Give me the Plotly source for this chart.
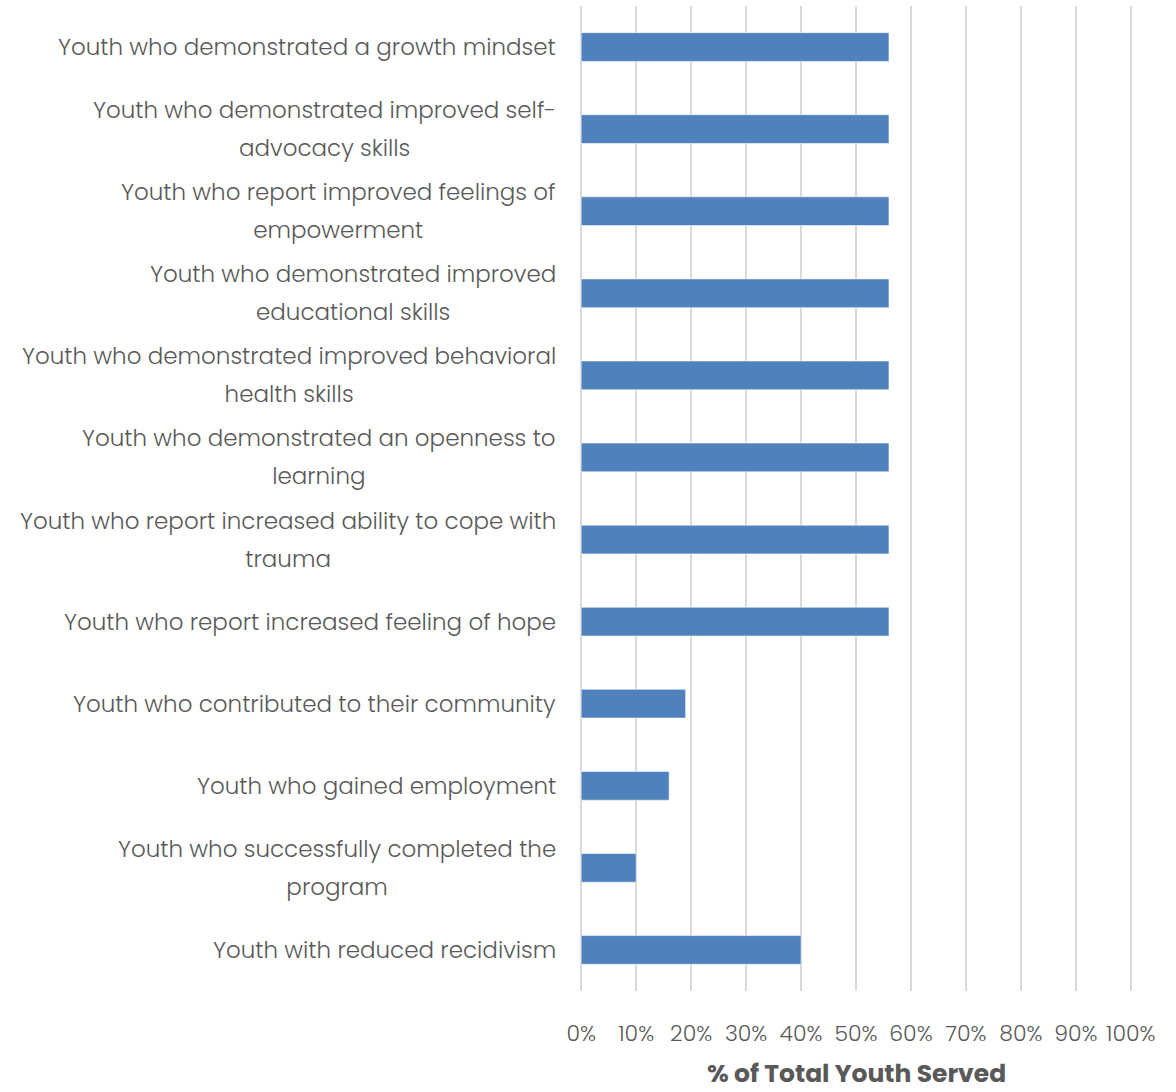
import plotly.graph_objects as go

# Outcome categories, listed top to bottom (wrapped lines separated by "\n")
categories = [
    "Youth who demonstrated a growth mindset",
    "Youth who demonstrated improved self-\nadvocacy skills",
    "Youth who report improved feelings of\nempowerment",
    "Youth who demonstrated improved\neducational skills",
    "Youth who demonstrated improved behavioral\nhealth skills",
    "Youth who demonstrated an openness to\nlearning",
    "Youth who report increased ability to cope with\ntrauma",
    "Youth who report increased feeling of hope",
    "Youth who contributed to their community",
    "Youth who gained employment",
    "Youth who successfully completed the\nprogram",
    "Youth with reduced recidivism",
]
# Percent of total youth served
values = [56, 56, 56, 56, 56, 56, 56, 56, 19, 16, 10, 40]

x_ticks = list(range(0, 101, 10))
x_tick_labels = [f"{t}%" for t in x_ticks]
x_title = "% of Total Youth Served"

FONT = "Poppins, 'Open Sans', sans-serif"
TEXT = "#595959"
LABEL_SIZE = 23          # glyph size of category labels
LINE_PITCH = 38          # px between wrapped label lines
BASE_SIZE = LINE_PITCH / 1.3  # plotly spaces lines at 1.3em of the base font

fig = go.Figure(
    go.Bar(
        x=values,
        y=categories,
        orientation="h",
        marker=dict(color="#4F81BD", line=dict(color="rgba(255,255,255,0.55)", width=1)),
        hoverinfo="x",
    )
)

# Category labels: centered multi-line blocks right-aligned to the plot edge
annotations = []
for cat in categories:
    lines = cat.split("\n")
    text = "<br>".join(
        f'<span style="font-size:{LABEL_SIZE}px">{ln}</span>' for ln in lines
    )
    annotations.append(
        dict(
            x=0, xref="paper", y=cat, yref="y",
            text=text, showarrow=False,
            xanchor="right", yanchor="middle", align="center",
            xshift=-21,
            font=dict(family=FONT, size=BASE_SIZE, color=TEXT, weight=300),
        )
    )

# x-axis title, centered under the plot area
annotations.append(
    dict(
        x=0.5, xref="paper", y=0, yref="paper",
        text=f"<b>{x_title}</b>", showarrow=False,
        xanchor="center", yanchor="middle", yshift=-82,
        font=dict(family=FONT, size=25, color=TEXT),
    )
)

fig.update_layout(
    width=1176,
    height=1092,
    margin=dict(l=578.8, r=42.8, t=6, b=101),
    paper_bgcolor="white",
    plot_bgcolor="white",
    bargap=0.65,
    showlegend=False,
    annotations=annotations,
    font=dict(family=FONT, color=TEXT),
)
# small padding on both ends keeps the 0% and 100% gridlines drawn
fig.update_xaxes(
    automargin=False,
    range=[-0.4, 100.4],
    tickvals=x_ticks,
    ticktext=x_tick_labels,
    showgrid=True,
    gridcolor="#D9D9D9",
    gridwidth=2,
    zeroline=False,
    showline=False,
    ticks="",
    ticklabelstandoff=27,
    tickfont=dict(family=FONT, size=22, color=TEXT, weight=300),
)
fig.update_yaxes(
    automargin=False,
    autorange="reversed",
    showticklabels=False,
    showgrid=False,
    zeroline=False,
    ticks="",
)

fig.write_html("out.html")
